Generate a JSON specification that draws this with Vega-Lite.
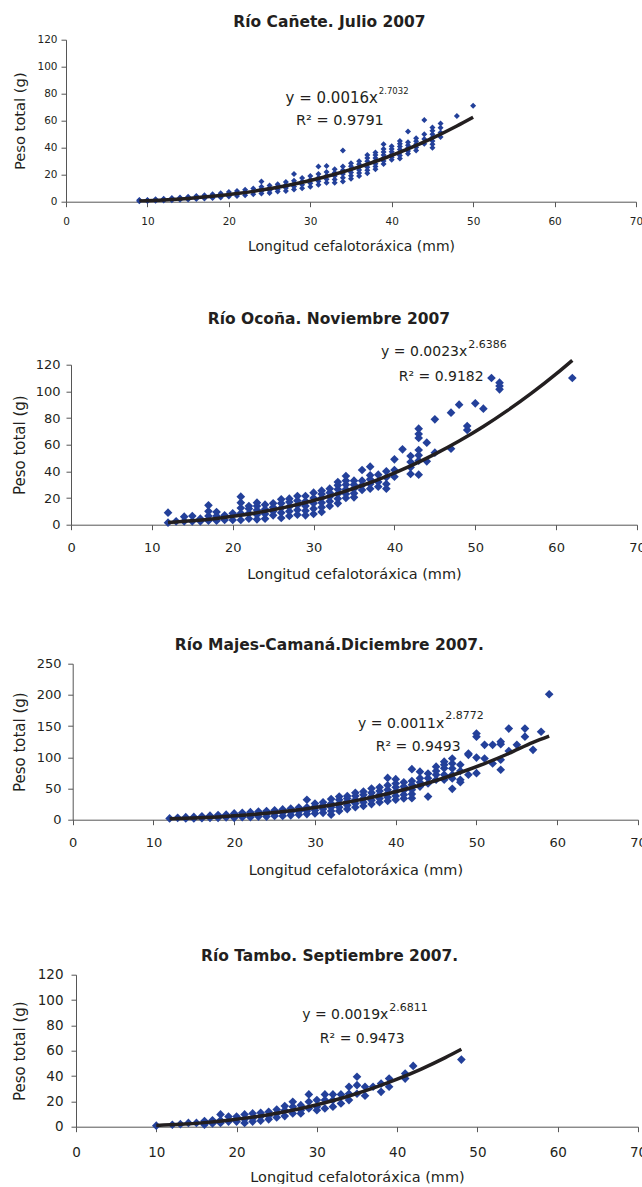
{
"$schema": "https://vega.github.io/schema/vega-lite/v6.json",
"padding": {"left": 12, "top": 14.7, "right": 0, "bottom": 0},
"autosize": {"type": "pad"},
"columns": 1,
"spacing": 57,
"config": {
 "view": {"stroke": null},
 "axis": {"labelFont": "DejaVu Sans", "titleFont": "DejaVu Sans", "labelColor": "#231f20", "titleColor": "#231f20", "titleFontWeight": "normal", "domainColor": "#555555", "tickColor": "#555555", "grid": false, "tickSize": 5, "labelFlush": false},
 "title": {"font": "DejaVu Sans", "fontSize": 15.5, "fontWeight": "bold", "color": "#231f20", "anchor": "middle", "frame": "bounds", "baseline": "bottom"},
 "text": {"font": "DejaVu Sans", "color": "#231f20"}
},
"datasets": {
 "c": [{"x":9,"y":0.3},{"x":9,"y":0.8},{"x":9,"y":1.2},{"x":10,"y":0.5},{"x":10,"y":0.9},{"x":10,"y":1.3},{"x":11,"y":0.7},{"x":11,"y":1.2},{"x":11,"y":1.8},{"x":12,"y":0.9},{"x":12,"y":1.5},{"x":12,"y":2.2},{"x":13,"y":1.1},{"x":13,"y":1.9},{"x":13,"y":2.8},{"x":14,"y":1.4},{"x":14,"y":2.3},{"x":14,"y":3.2},{"x":15,"y":1.7},{"x":15,"y":2.6},{"x":15,"y":3.6},{"x":16,"y":2},{"x":16,"y":3.1},{"x":16,"y":4.2},{"x":17,"y":2.3},{"x":17,"y":3.5},{"x":17,"y":4.8},{"x":18,"y":2.8},{"x":18,"y":4.1},{"x":18,"y":5.5},{"x":19,"y":3.2},{"x":19,"y":4.7},{"x":19,"y":6.3},{"x":20,"y":3.8},{"x":20,"y":5.5},{"x":20,"y":7.2},{"x":21,"y":4.2},{"x":21,"y":6.1},{"x":21,"y":8},{"x":22,"y":4.8},{"x":22,"y":6.8},{"x":22,"y":8.8},{"x":23,"y":5.5},{"x":23,"y":7.6},{"x":23,"y":9.8},{"x":24,"y":6},{"x":24,"y":7.7},{"x":24,"y":9.4},{"x":24,"y":11},{"x":24,"y":15},{"x":25,"y":6.5},{"x":25,"y":8.3},{"x":25,"y":10.2},{"x":25,"y":12},{"x":26,"y":7.5},{"x":26,"y":9.3},{"x":26,"y":11.2},{"x":26,"y":13},{"x":27,"y":8},{"x":27,"y":10.2},{"x":27,"y":12.3},{"x":27,"y":14.5},{"x":28,"y":9},{"x":28,"y":11.2},{"x":28,"y":13.3},{"x":28,"y":15.5},{"x":28,"y":20.5},{"x":29,"y":10},{"x":29,"y":12.5},{"x":29,"y":15},{"x":29,"y":17.5},{"x":30,"y":11},{"x":30,"y":13.7},{"x":30,"y":16.3},{"x":30,"y":19},{"x":31,"y":12.5},{"x":31,"y":15.2},{"x":31,"y":17.8},{"x":31,"y":20.5},{"x":31,"y":26},{"x":32,"y":14},{"x":32,"y":16.7},{"x":32,"y":19.3},{"x":32,"y":22},{"x":32,"y":26.5},{"x":33,"y":14},{"x":33,"y":16.5},{"x":33,"y":19},{"x":33,"y":21.5},{"x":33,"y":24},{"x":34,"y":15},{"x":34,"y":17.8},{"x":34,"y":20.5},{"x":34,"y":23.3},{"x":34,"y":26},{"x":34,"y":38},{"x":35,"y":17},{"x":35,"y":19.3},{"x":35,"y":21.6},{"x":35,"y":23.9},{"x":35,"y":26.2},{"x":35,"y":28.5},{"x":36,"y":19},{"x":36,"y":21.2},{"x":36,"y":23.4},{"x":36,"y":25.6},{"x":36,"y":27.8},{"x":36,"y":30},{"x":37,"y":21},{"x":37,"y":23.3},{"x":37,"y":25.5},{"x":37,"y":27.8},{"x":37,"y":30},{"x":37,"y":32.3},{"x":37,"y":34.5},{"x":38,"y":24},{"x":38,"y":26.1},{"x":38,"y":28.2},{"x":38,"y":30.3},{"x":38,"y":32.4},{"x":38,"y":34.5},{"x":38,"y":36.5},{"x":39,"y":28},{"x":39,"y":30.2},{"x":39,"y":32.4},{"x":39,"y":34.6},{"x":39,"y":36.8},{"x":39,"y":39},{"x":39,"y":42.5},{"x":40,"y":31},{"x":40,"y":33},{"x":40,"y":35},{"x":40,"y":37},{"x":40,"y":39},{"x":40,"y":41},{"x":41,"y":32},{"x":41,"y":34.2},{"x":41,"y":36.4},{"x":41,"y":38.6},{"x":41,"y":40.8},{"x":41,"y":43},{"x":41,"y":45},{"x":42,"y":35.5},{"x":42,"y":37.6},{"x":42,"y":39.8},{"x":42,"y":41.9},{"x":42,"y":44},{"x":42,"y":52},{"x":43,"y":38},{"x":43,"y":40.3},{"x":43,"y":42.5},{"x":43,"y":44.8},{"x":43,"y":47},{"x":44,"y":43},{"x":44,"y":46.5},{"x":44,"y":50},{"x":44,"y":60.5},{"x":45,"y":40},{"x":45,"y":42.5},{"x":45,"y":45},{"x":45,"y":47.5},{"x":45,"y":50},{"x":45,"y":52.5},{"x":45,"y":55},{"x":46,"y":48},{"x":46,"y":51.3},{"x":46,"y":54.7},{"x":46,"y":58},{"x":48,"y":63.5},{"x":50,"y":71}],
 "o": [{"x":12,"y":1.5},{"x":12,"y":9},{"x":13,"y":2.5},{"x":14,"y":2.5},{"x":14,"y":6},{"x":15,"y":2.5},{"x":15,"y":6.5},{"x":16,"y":2.5},{"x":16,"y":4.5},{"x":17,"y":3},{"x":17,"y":6.5},{"x":17,"y":10},{"x":17,"y":14.5},{"x":18,"y":3},{"x":18,"y":6.5},{"x":18,"y":9.5},{"x":19,"y":3.5},{"x":19,"y":7},{"x":20,"y":3.5},{"x":20,"y":8.5},{"x":21,"y":3.5},{"x":21,"y":8.5},{"x":21,"y":12.5},{"x":21,"y":16.5},{"x":21,"y":21},{"x":22,"y":4.5},{"x":22,"y":8.5},{"x":22,"y":12},{"x":22,"y":14},{"x":23,"y":4},{"x":23,"y":7.5},{"x":23,"y":11},{"x":23,"y":14},{"x":23,"y":16.5},{"x":24,"y":4.5},{"x":24,"y":8},{"x":24,"y":11.5},{"x":24,"y":15},{"x":25,"y":7},{"x":25,"y":10},{"x":25,"y":13},{"x":25,"y":16},{"x":26,"y":5},{"x":26,"y":9},{"x":26,"y":12.5},{"x":26,"y":16},{"x":26,"y":19},{"x":27,"y":6.5},{"x":27,"y":10},{"x":27,"y":13.5},{"x":27,"y":17},{"x":27,"y":19.5},{"x":28,"y":7.5},{"x":28,"y":11},{"x":28,"y":14.5},{"x":28,"y":18},{"x":28,"y":21.5},{"x":29,"y":7},{"x":29,"y":10.5},{"x":29,"y":14},{"x":29,"y":17.5},{"x":29,"y":21.5},{"x":30,"y":8},{"x":30,"y":12},{"x":30,"y":16},{"x":30,"y":20},{"x":30,"y":24},{"x":31,"y":9.5},{"x":31,"y":13},{"x":31,"y":16.5},{"x":31,"y":20},{"x":31,"y":23},{"x":31,"y":25.5},{"x":32,"y":14},{"x":32,"y":17.5},{"x":32,"y":21},{"x":32,"y":24},{"x":32,"y":27},{"x":33,"y":16},{"x":33,"y":19.5},{"x":33,"y":23},{"x":33,"y":26.5},{"x":33,"y":29.5},{"x":33,"y":32},{"x":34,"y":20},{"x":34,"y":23},{"x":34,"y":26.5},{"x":34,"y":30},{"x":34,"y":33},{"x":34,"y":36.5},{"x":35,"y":20.5},{"x":35,"y":23.5},{"x":35,"y":27},{"x":35,"y":30},{"x":35,"y":33},{"x":36,"y":26},{"x":36,"y":29.5},{"x":36,"y":33},{"x":36,"y":41},{"x":37,"y":27},{"x":37,"y":30.5},{"x":37,"y":34},{"x":37,"y":37},{"x":37,"y":43.5},{"x":38,"y":28.5},{"x":38,"y":32},{"x":38,"y":37.5},{"x":39,"y":27},{"x":39,"y":30.5},{"x":39,"y":35.5},{"x":39,"y":40},{"x":40,"y":36},{"x":40,"y":41},{"x":40,"y":49},{"x":41,"y":56.5},{"x":42,"y":38},{"x":42,"y":43},{"x":42,"y":47},{"x":42,"y":51.5},{"x":43,"y":37.5},{"x":43,"y":48},{"x":43,"y":52},{"x":43,"y":56},{"x":43,"y":65},{"x":43,"y":68},{"x":43,"y":72},{"x":44,"y":47.5},{"x":44,"y":61.5},{"x":45,"y":54},{"x":45,"y":79},{"x":47,"y":57},{"x":47,"y":84},{"x":48,"y":90},{"x":49,"y":71},{"x":49,"y":74},{"x":50,"y":91},{"x":51,"y":87},{"x":52,"y":110},{"x":53,"y":101.5},{"x":53,"y":104},{"x":53,"y":106.5},{"x":62,"y":110}],
 "m": [{"x":12,"y":2},{"x":13,"y":3},{"x":14,"y":2},{"x":14,"y":4},{"x":15,"y":2},{"x":15,"y":4.5},{"x":16,"y":2.5},{"x":16,"y":5.5},{"x":17,"y":3},{"x":17,"y":6.5},{"x":18,"y":3},{"x":18,"y":7.5},{"x":19,"y":3.5},{"x":19,"y":8},{"x":20,"y":3},{"x":20,"y":6.5},{"x":20,"y":10},{"x":21,"y":4},{"x":21,"y":7.5},{"x":21,"y":11},{"x":22,"y":4},{"x":22,"y":8},{"x":22,"y":12},{"x":23,"y":5},{"x":23,"y":9},{"x":23,"y":13},{"x":24,"y":5},{"x":24,"y":9.5},{"x":24,"y":14},{"x":25,"y":6},{"x":25,"y":10.5},{"x":25,"y":15},{"x":26,"y":6},{"x":26,"y":11},{"x":26,"y":16.5},{"x":27,"y":7},{"x":27,"y":12},{"x":27,"y":18},{"x":28,"y":8},{"x":28,"y":13},{"x":28,"y":19.5},{"x":29,"y":9},{"x":29,"y":14},{"x":29,"y":20},{"x":29,"y":32},{"x":30,"y":10},{"x":30,"y":15},{"x":30,"y":21},{"x":30,"y":26},{"x":31,"y":11},{"x":31,"y":17},{"x":31,"y":23},{"x":31,"y":28},{"x":32,"y":8},{"x":32,"y":14},{"x":32,"y":20},{"x":32,"y":26},{"x":32,"y":33},{"x":33,"y":14},{"x":33,"y":20},{"x":33,"y":26},{"x":33,"y":32},{"x":33,"y":37},{"x":34,"y":17},{"x":34,"y":23},{"x":34,"y":29},{"x":34,"y":34},{"x":34,"y":38},{"x":35,"y":20},{"x":35,"y":26},{"x":35,"y":32},{"x":35,"y":38},{"x":35,"y":43},{"x":36,"y":22},{"x":36,"y":28},{"x":36,"y":34},{"x":36,"y":40},{"x":36,"y":45},{"x":37,"y":25},{"x":37,"y":31},{"x":37,"y":37},{"x":37,"y":43},{"x":37,"y":50},{"x":38,"y":28},{"x":38,"y":34},{"x":38,"y":40},{"x":38,"y":46},{"x":38,"y":52},{"x":39,"y":30},{"x":39,"y":36},{"x":39,"y":42},{"x":39,"y":48},{"x":39,"y":55},{"x":39,"y":67},{"x":40,"y":32},{"x":40,"y":38},{"x":40,"y":45},{"x":40,"y":52},{"x":40,"y":58},{"x":40,"y":65},{"x":41,"y":34},{"x":41,"y":40},{"x":41,"y":47},{"x":41,"y":53},{"x":41,"y":60},{"x":42,"y":34.5},{"x":42,"y":41},{"x":42,"y":48},{"x":42,"y":56},{"x":42,"y":62},{"x":42,"y":81},{"x":43,"y":53},{"x":43,"y":60},{"x":43,"y":66.5},{"x":43,"y":77},{"x":44,"y":37},{"x":44,"y":58},{"x":44,"y":66.5},{"x":44,"y":74},{"x":45,"y":64},{"x":45,"y":72},{"x":45,"y":78},{"x":45,"y":85},{"x":46,"y":64},{"x":46,"y":72},{"x":46,"y":82.5},{"x":46,"y":88},{"x":46,"y":93},{"x":47,"y":49.5},{"x":47,"y":66},{"x":47,"y":72},{"x":47,"y":82},{"x":47,"y":90},{"x":47,"y":98},{"x":48,"y":60},{"x":48,"y":64},{"x":48,"y":78},{"x":48,"y":88},{"x":49,"y":72},{"x":49,"y":104},{"x":49,"y":106},{"x":50,"y":74.5},{"x":50,"y":99.5},{"x":50,"y":133},{"x":50,"y":138},{"x":51,"y":98},{"x":51,"y":120},{"x":52,"y":90},{"x":52,"y":120},{"x":53,"y":80},{"x":53,"y":96},{"x":53,"y":121},{"x":53,"y":125},{"x":54,"y":110},{"x":54,"y":146},{"x":55,"y":120},{"x":56,"y":133},{"x":56,"y":146},{"x":57,"y":112},{"x":58,"y":141},{"x":59,"y":201}],
 "t": [{"x":10,"y":0.8},{"x":12,"y":1.5},{"x":13,"y":2},{"x":14,"y":3},{"x":15,"y":3},{"x":16,"y":1.5},{"x":16,"y":4.5},{"x":17,"y":2.5},{"x":17,"y":5},{"x":18,"y":3},{"x":18,"y":5},{"x":18,"y":9.7},{"x":19,"y":4},{"x":19,"y":8},{"x":20,"y":4},{"x":20,"y":8},{"x":21,"y":3},{"x":21,"y":5.8},{"x":21,"y":9.7},{"x":22,"y":4},{"x":22,"y":6.5},{"x":22,"y":10.5},{"x":23,"y":4.7},{"x":23,"y":8},{"x":23,"y":11},{"x":24,"y":5.8},{"x":24,"y":8.4},{"x":24,"y":11.8},{"x":25,"y":7.3},{"x":25,"y":10.5},{"x":25,"y":13.6},{"x":26,"y":8.4},{"x":26,"y":13},{"x":26,"y":16.3},{"x":27,"y":10.5},{"x":27,"y":15.8},{"x":27,"y":19.7},{"x":28,"y":10.5},{"x":28,"y":13},{"x":28,"y":17},{"x":29,"y":14.4},{"x":29,"y":19.7},{"x":29,"y":25.5},{"x":30,"y":13},{"x":30,"y":15.8},{"x":30,"y":21},{"x":31,"y":14.4},{"x":31,"y":21},{"x":31,"y":25.5},{"x":32,"y":15.8},{"x":32,"y":21},{"x":32,"y":25.5},{"x":33,"y":18.4},{"x":33,"y":25.5},{"x":34,"y":21},{"x":34,"y":26},{"x":34,"y":31.5},{"x":35,"y":26},{"x":35,"y":32.8},{"x":35,"y":39.4},{"x":36,"y":24.4},{"x":36,"y":31.5},{"x":37,"y":31.5},{"x":38,"y":27.5},{"x":38,"y":34},{"x":39,"y":31.5},{"x":39,"y":38},{"x":41,"y":38},{"x":41,"y":42},{"x":42,"y":48},{"x":48,"y":53}],
 "fc": [{"x":9,"y":0.61},{"x":12,"y":1.32},{"x":15,"y":2.42},{"x":18,"y":3.96},{"x":21,"y":6.0},{"x":24,"y":8.61},{"x":27,"y":11.84},{"x":30,"y":15.74},{"x":33,"y":20.36},{"x":36,"y":25.76},{"x":39,"y":32.0},{"x":42,"y":39.1},{"x":45,"y":47.1},{"x":48,"y":56.1},{"x":50,"y":62.6}],
 "fo": [{"x":12,"y":1.62},{"x":15,"y":2.92},{"x":18,"y":4.72},{"x":21,"y":7.08},{"x":24,"y":10.08},{"x":27,"y":13.75},{"x":30,"y":18.15},{"x":33,"y":23.35},{"x":36,"y":29.4},{"x":39,"y":36.3},{"x":42,"y":44.1},{"x":45,"y":52.9},{"x":48,"y":62.7},{"x":51,"y":73.6},{"x":54,"y":85.7},{"x":57,"y":98.8},{"x":60,"y":113.1},{"x":62,"y":123.3}],
 "fm": [{"x":12,"y":1.4},{"x":15,"y":2.66},{"x":18,"y":4.5},{"x":21,"y":7.01},{"x":24,"y":10.3},{"x":27,"y":14.44},{"x":30,"y":19.56},{"x":33,"y":25.7},{"x":36,"y":33.0},{"x":39,"y":41.6},{"x":42,"y":51.5},{"x":45,"y":62.8},{"x":48,"y":75.6},{"x":51,"y":90.0},{"x":54,"y":106.1},{"x":57,"y":124.0},{"x":59,"y":134}],
 "ft": [{"x":10,"y":0.91},{"x":13,"y":1.84},{"x":16,"y":3.21},{"x":19,"y":5.09},{"x":22,"y":7.55},{"x":25,"y":10.64},{"x":28,"y":14.41},{"x":31,"y":18.93},{"x":34,"y":24.24},{"x":37,"y":30.4},{"x":40,"y":37.5},{"x":43,"y":45.5},{"x":46,"y":54.5},{"x":48,"y":61.1}]
},
"concat": [
 {
  "width": 560, "height": 162,
  "title": {"text": "Río Cañete. Julio 2007", "offset": 4},
  "layer": [
   {"data": {"name": "c"}, "mark": {"type": "point", "shape": "diamond", "filled": true, "size": 36, "color": "#23409a", "opacity": 1},
    "encoding": {
     "x": {"field": "x", "type": "quantitative", "scale": {"domain": [0, 70], "nice": false, "range": [-10, 560]}, "axis": {"values": [0,10,20,30,40,50,60,70], "title": "Longitud cefalotoráxica (mm)", "labelFontSize": 10.5, "titleFontSize": 14, "labelPadding": 10, "titlePadding": 12.6, "labelOverlap": false}},
     "y": {"field": "y", "type": "quantitative", "scale": {"domain": [0, 120], "nice": false}, "axis": {"values": [0,20,40,60,80,100,120], "title": "Peso total (g)", "offset": 10, "labelFontSize": 10.5, "titleFontSize": 14.7, "labelPadding": 4, "titlePadding": 9, "labelOverlap": false}}
    }},
   {"data": {"name": "fc"}, "mark": {"type": "line", "color": "#231f20", "strokeWidth": 3.5, "interpolate": "monotone"},
    "encoding": {
     "x": {"field": "x", "type": "quantitative", "scale": {"domain": [0, 70], "nice": false, "range": [-10, 560]}, "axis": {"values": [0,10,20,30,40,50,60,70], "title": "Longitud cefalotoráxica (mm)", "labelFontSize": 10.5, "titleFontSize": 14, "labelPadding": 10, "titlePadding": 12.6, "labelOverlap": false}},
     "y": {"field": "y", "type": "quantitative", "scale": {"domain": [0, 120], "nice": false}, "axis": {"values": [0,20,40,60,80,100,120], "title": "Peso total (g)", "offset": 10, "labelFontSize": 10.5, "titleFontSize": 14.7, "labelPadding": 4, "titlePadding": 9, "labelOverlap": false}}
    }},
   {"data": {"values": [{}]},
    "encoding": {
     "x": {"datum": 38.3, "type": "quantitative", "scale": {"domain": [0, 70], "nice": false, "range": [-10, 560]}, "axis": {"values": [0,10,20,30,40,50,60,70], "title": "Longitud cefalotoráxica (mm)", "labelFontSize": 10.5, "titleFontSize": 14, "labelPadding": 10, "titlePadding": 12.6, "labelOverlap": false}},
     "y": {"datum": 76.5, "type": "quantitative", "scale": {"domain": [0, 120], "nice": false}, "axis": {"values": [0,20,40,60,80,100,120], "title": "Peso total (g)", "offset": 10, "labelFontSize": 10.5, "titleFontSize": 14.7, "labelPadding": 4, "titlePadding": 9, "labelOverlap": false}}
    },
    "layer": [
     {"mark": {"type": "text", "text": "y = 0.0016x", "align": "right", "baseline": "middle", "fontSize": 15}},
     {"mark": {"type": "text", "text": "2.7032", "align": "left", "baseline": "middle", "fontSize": 8.5, "dx": 1, "dy": -7.5}},
     {"mark": {"type": "text", "text": "R² = 0.9791", "align": "center", "baseline": "middle", "fontSize": 14.5, "dx": -38, "dy": 22.7}}
    ]}
  ]
 },
 {
  "width": 561, "height": 160,
  "title": {"text": "Río Ocoña. Noviembre 2007", "offset": 11.3},
  "layer": [
   {"data": {"name": "o"}, "mark": {"type": "point", "shape": "diamond", "filled": true, "size": 75, "color": "#23409a", "opacity": 1},
    "encoding": {
     "x": {"field": "x", "type": "quantitative", "scale": {"domain": [0, 70], "nice": false, "range": [-5, 561]}, "axis": {"values": [0,10,20,30,40,50,60,70], "title": "Longitud cefalotoráxica (mm)", "labelFontSize": 13, "titleFontSize": 14.5, "labelPadding": 11.8, "titlePadding": 12.7, "labelOverlap": false}},
     "y": {"field": "y", "type": "quantitative", "scale": {"domain": [0, 120], "nice": false}, "axis": {"values": [0,20,40,60,80,100,120], "title": "Peso total (g)", "offset": 5, "labelFontSize": 13, "titleFontSize": 15, "labelPadding": 6, "titlePadding": 7.7, "labelOverlap": false}}
    }},
   {"data": {"name": "fo"}, "mark": {"type": "line", "color": "#231f20", "strokeWidth": 3.5, "interpolate": "monotone"},
    "encoding": {
     "x": {"field": "x", "type": "quantitative", "scale": {"domain": [0, 70], "nice": false, "range": [-5, 561]}, "axis": {"values": [0,10,20,30,40,50,60,70], "title": "Longitud cefalotoráxica (mm)", "labelFontSize": 13, "titleFontSize": 14.5, "labelPadding": 11.8, "titlePadding": 12.7, "labelOverlap": false}},
     "y": {"field": "y", "type": "quantitative", "scale": {"domain": [0, 120], "nice": false}, "axis": {"values": [0,20,40,60,80,100,120], "title": "Peso total (g)", "offset": 5, "labelFontSize": 13, "titleFontSize": 15, "labelPadding": 6, "titlePadding": 7.7, "labelOverlap": false}}
    }},
   {"data": {"values": [{}]},
    "encoding": {
     "x": {"datum": 49, "type": "quantitative", "scale": {"domain": [0, 70], "nice": false, "range": [-5, 561]}, "axis": {"values": [0,10,20,30,40,50,60,70], "title": "Longitud cefalotoráxica (mm)", "labelFontSize": 13, "titleFontSize": 14.5, "labelPadding": 11.8, "titlePadding": 12.7, "labelOverlap": false}},
     "y": {"datum": 129.2, "type": "quantitative", "scale": {"domain": [0, 120], "nice": false}, "axis": {"values": [0,20,40,60,80,100,120], "title": "Peso total (g)", "offset": 5, "labelFontSize": 13, "titleFontSize": 15, "labelPadding": 6, "titlePadding": 7.7, "labelOverlap": false}}
    },
    "layer": [
     {"mark": {"type": "text", "text": "y = 0.0023x", "align": "right", "baseline": "middle", "fontSize": 14}},
     {"mark": {"type": "text", "text": "2.6386", "align": "left", "baseline": "middle", "fontSize": 11, "dx": 1, "dy": -7.5}},
     {"mark": {"type": "text", "text": "R² = 0.9182", "align": "center", "baseline": "middle", "fontSize": 14, "dx": -26, "dy": 25}}
    ]}
  ]
 },
 {
  "width": 562, "height": 156,
  "title": {"text": "Río Majes-Camaná.Diciembre 2007.", "offset": 4.2},
  "layer": [
   {"data": {"name": "m"}, "mark": {"type": "point", "shape": "diamond", "filled": true, "size": 75, "color": "#23409a", "opacity": 1},
    "encoding": {
     "x": {"field": "x", "type": "quantitative", "scale": {"domain": [0, 70], "nice": false, "range": [-3.3, 562]}, "axis": {"values": [0,10,20,30,40,50,60,70], "title": "Longitud cefalotoráxica (mm)", "labelFontSize": 13, "titleFontSize": 14.5, "labelPadding": 12.2, "titlePadding": 13.3, "labelOverlap": false}},
     "y": {"field": "y", "type": "quantitative", "scale": {"domain": [0, 250], "nice": false}, "axis": {"values": [0,50,100,150,200,250], "title": "Peso total (g)", "offset": 3.3, "labelFontSize": 13, "titleFontSize": 15, "labelPadding": 6.7, "titlePadding": 8.7, "labelOverlap": false}}
    }},
   {"data": {"name": "fm"}, "mark": {"type": "line", "color": "#231f20", "strokeWidth": 3.5, "interpolate": "monotone"},
    "encoding": {
     "x": {"field": "x", "type": "quantitative", "scale": {"domain": [0, 70], "nice": false, "range": [-3.3, 562]}, "axis": {"values": [0,10,20,30,40,50,60,70], "title": "Longitud cefalotoráxica (mm)", "labelFontSize": 13, "titleFontSize": 14.5, "labelPadding": 12.2, "titlePadding": 13.3, "labelOverlap": false}},
     "y": {"field": "y", "type": "quantitative", "scale": {"domain": [0, 250], "nice": false}, "axis": {"values": [0,50,100,150,200,250], "title": "Peso total (g)", "offset": 3.3, "labelFontSize": 13, "titleFontSize": 15, "labelPadding": 6.7, "titlePadding": 8.7, "labelOverlap": false}}
    }},
   {"data": {"values": [{}]},
    "encoding": {
     "x": {"datum": 46, "type": "quantitative", "scale": {"domain": [0, 70], "nice": false, "range": [-3.3, 562]}, "axis": {"values": [0,10,20,30,40,50,60,70], "title": "Longitud cefalotoráxica (mm)", "labelFontSize": 13, "titleFontSize": 14.5, "labelPadding": 12.2, "titlePadding": 13.3, "labelOverlap": false}},
     "y": {"datum": 154, "type": "quantitative", "scale": {"domain": [0, 250], "nice": false}, "axis": {"values": [0,50,100,150,200,250], "title": "Peso total (g)", "offset": 3.3, "labelFontSize": 13, "titleFontSize": 15, "labelPadding": 6.7, "titlePadding": 8.7, "labelOverlap": false}}
    },
    "layer": [
     {"mark": {"type": "text", "text": "y = 0.0011x", "align": "right", "baseline": "middle", "fontSize": 14}},
     {"mark": {"type": "text", "text": "2.8772", "align": "left", "baseline": "middle", "fontSize": 11, "dx": 1, "dy": -7.5}},
     {"mark": {"type": "text", "text": "R² = 0.9493", "align": "center", "baseline": "middle", "fontSize": 14, "dx": -26, "dy": 23.3}}
    ]}
  ]
 },
 {
  "width": 562, "height": 152,
  "title": {"text": ["", "Río Tambo. Septiembre 2007."], "lineHeight": 14.3, "offset": 3.4},
  "layer": [
   {"data": {"name": "t"}, "mark": {"type": "point", "shape": "diamond", "filled": true, "size": 75, "color": "#23409a", "opacity": 1},
    "encoding": {
     "x": {"field": "x", "type": "quantitative", "scale": {"domain": [0, 70], "nice": false}, "axis": {"values": [0,10,20,30,40,50,60,70], "title": "Longitud cefalotoráxica (mm)", "labelFontSize": 13.5, "titleFontSize": 14.5, "labelPadding": 13.6, "titlePadding": 11.4, "labelOverlap": false}},
     "y": {"field": "y", "type": "quantitative", "scale": {"domain": [0, 120], "nice": false}, "axis": {"values": [0,20,40,60,80,100,120], "title": "Peso total (g)", "labelFontSize": 13.5, "titleFontSize": 15, "labelPadding": 8, "titlePadding": 9.7, "labelOverlap": false}}
    }},
   {"data": {"name": "ft"}, "mark": {"type": "line", "color": "#231f20", "strokeWidth": 3.5, "interpolate": "monotone"},
    "encoding": {
     "x": {"field": "x", "type": "quantitative", "scale": {"domain": [0, 70], "nice": false}, "axis": {"values": [0,10,20,30,40,50,60,70], "title": "Longitud cefalotoráxica (mm)", "labelFontSize": 13.5, "titleFontSize": 14.5, "labelPadding": 13.6, "titlePadding": 11.4, "labelOverlap": false}},
     "y": {"field": "y", "type": "quantitative", "scale": {"domain": [0, 120], "nice": false}, "axis": {"values": [0,20,40,60,80,100,120], "title": "Peso total (g)", "labelFontSize": 13.5, "titleFontSize": 15, "labelPadding": 8, "titlePadding": 9.7, "labelOverlap": false}}
    }},
   {"data": {"values": [{}]},
    "encoding": {
     "x": {"datum": 38.9, "type": "quantitative", "scale": {"domain": [0, 70], "nice": false}, "axis": {"values": [0,10,20,30,40,50,60,70], "title": "Longitud cefalotoráxica (mm)", "labelFontSize": 13.5, "titleFontSize": 14.5, "labelPadding": 13.6, "titlePadding": 11.4, "labelOverlap": false}},
     "y": {"datum": 88, "type": "quantitative", "scale": {"domain": [0, 120], "nice": false}, "axis": {"values": [0,20,40,60,80,100,120], "title": "Peso total (g)", "labelFontSize": 13.5, "titleFontSize": 15, "labelPadding": 8, "titlePadding": 9.7, "labelOverlap": false}}
    },
    "layer": [
     {"mark": {"type": "text", "text": "y = 0.0019x", "align": "right", "baseline": "middle", "fontSize": 14}},
     {"mark": {"type": "text", "text": "2.6811", "align": "left", "baseline": "middle", "fontSize": 11, "dx": 1, "dy": -7.5}},
     {"mark": {"type": "text", "text": "R² = 0.9473", "align": "center", "baseline": "middle", "fontSize": 14, "dx": -26, "dy": 23.3}}
    ]}
  ]
 }
]
}
